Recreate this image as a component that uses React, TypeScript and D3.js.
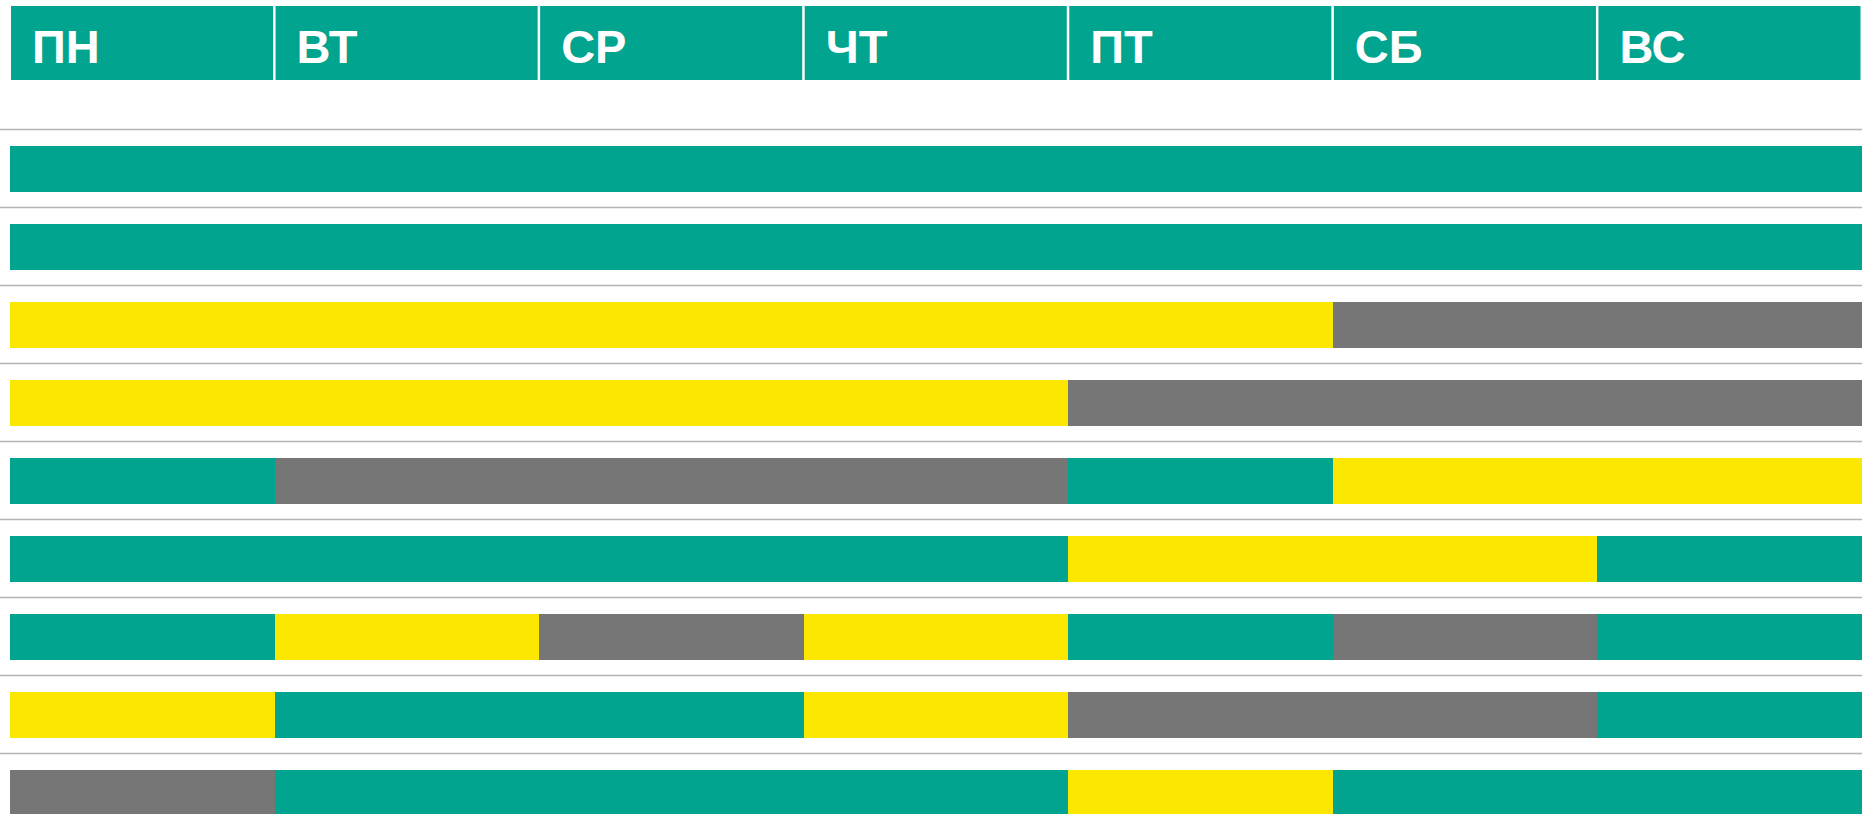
import * as d3 from "d3";
import { useEffect, useRef } from "react";

const days = ["ПН", "ВТ", "СР", "ЧТ", "ПТ", "СБ", "ВС"];

const statuses = ["green", "yellow", "grey"];
const statusColors = ["#00a48f", "#fce700", "#767676"];

// each row: list of [status, number of days]
const row1: Array<[string, number]> = [["green", 7]];
const row2: Array<[string, number]> = [["green", 7]];
const row3: Array<[string, number]> = [["yellow", 5], ["grey", 2]];
const row4: Array<[string, number]> = [["yellow", 4], ["grey", 3]];
const row5: Array<[string, number]> = [["green", 1], ["grey", 3], ["green", 1], ["yellow", 2]];
const row6: Array<[string, number]> = [["green", 4], ["yellow", 2], ["green", 1]];
const row7: Array<[string, number]> = [
  ["green", 1], ["yellow", 1], ["grey", 1], ["yellow", 1], ["green", 1], ["grey", 1], ["green", 1],
];
const row8: Array<[string, number]> = [["yellow", 1], ["green", 2], ["yellow", 1], ["grey", 2], ["green", 1]];
const row9: Array<[string, number]> = [["grey", 1], ["green", 3], ["yellow", 1], ["green", 2]];

const rows = [row1, row2, row3, row4, row5, row6, row7, row8, row9];

export default function App() {
  const svgRef = useRef(null);
  const width = 1870;
  const height = 814;

  useEffect(() => {
    const svg = d3.select(svgRef.current);
    svg.selectAll("*").remove();

    const x = d3.scaleLinear().domain([0, days.length]).range([10, 1862]);
    const color = d3.scaleOrdinal<string, string>().domain(statuses).range(statusColors);
    const y = d3
      .scaleBand<number>()
      .domain(d3.range(rows.length))
      .range([129, 129 + 78 * rows.length])
      .paddingInner(0)
      .paddingOuter(0);

    // header
    const header = svg.append("g");
    header
      .selectAll("rect")
      .data(days)
      .join("rect")
      .attr("x", (_, i) => x(i) + 1)
      .attr("y", 6)
      .attr("width", (_, i) => x(i + 1) - x(i) - 2.5)
      .attr("height", 74)
      .attr("fill", statusColors[0]);
    header
      .selectAll("text")
      .data(days)
      .join("text")
      .attr("x", (_, i) => x(i) + 22)
      .attr("y", 63)
      .attr("fill", "#fff")
      .attr("font-family", "Liberation Sans, Arial, sans-serif")
      .attr("font-weight", "bold")
      .attr("font-size", 47)
      .text((d) => d);

    // separators
    svg
      .append("g")
      .selectAll("line")
      .data(rows)
      .join("line")
      .attr("x1", 0)
      .attr("x2", 1862)
      .attr("y1", (_, i) => y(i)! + 0.5)
      .attr("y2", (_, i) => y(i)! + 0.5)
      .attr("stroke", "#b5b5b5")
      .attr("stroke-width", 1.5);

    // bars
    const rowG = svg
      .append("g")
      .selectAll("g")
      .data(rows)
      .join("g")
      .attr("transform", (_, i) => `translate(0, ${y(i)! + 17})`);

    rowG
      .selectAll("rect")
      .data((r) => {
        const ends = Array.from(d3.cumsum(r, (s) => s[1]));
        return r.map((s, j) => ({ status: s[0], start: ends[j] - s[1], end: ends[j] }));
      })
      .join("rect")
      .attr("x", (d) => x(d.start))
      .attr("y", 0)
      .attr("width", (d) => x(d.end) - x(d.start))
      .attr("height", 46)
      .attr("fill", (d) => color(d.status))
      .attr("shape-rendering", "crispEdges");
  }, []);

  return (
    <div style={{ position: "absolute", left: 0, top: 0 }}>
      <svg ref={svgRef} width={width} height={height} style={{ display: "block" }}></svg>
    </div>
  );
}
